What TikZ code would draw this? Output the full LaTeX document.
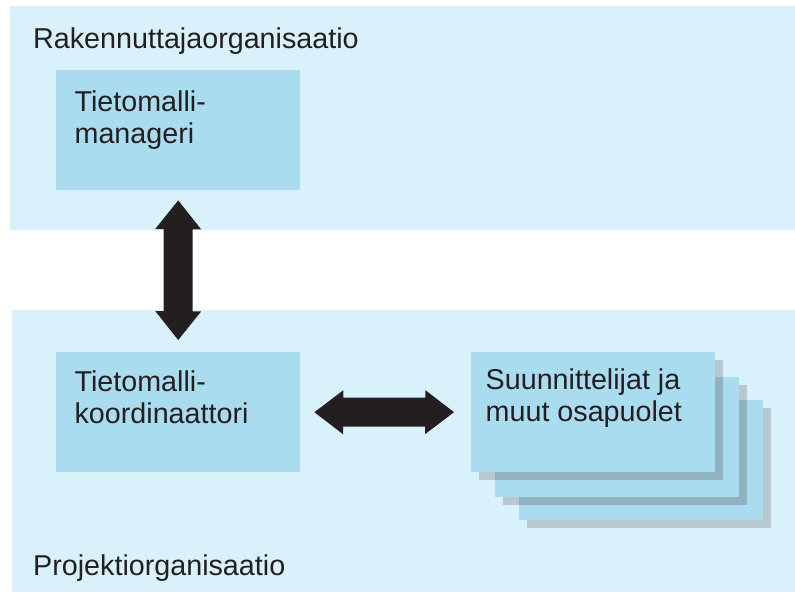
\documentclass[tikz,border=0pt]{standalone}
\usepackage{fontspec}
\setmainfont{Liberation Sans}
\usetikzlibrary{calc}
\definecolor{bandc}{RGB}{217,241,251}
\definecolor{boxc}{RGB}{170,220,240}
\definecolor{shlight}{RGB}{185,200,208}
\definecolor{shdark}{RGB}{144,178,194}
\definecolor{arrowc}{RGB}{35,31,32}
\tikzset{
  band/.style={fill=bandc},
  rolebox/.style={fill=boxc, draw=none, inner sep=0pt, minimum width=244pt, minimum height=120pt, anchor=north west},
  lbl/.style={inner sep=0pt, anchor=base west, text=arrowc, font=\fontsize{28.7}{31.5}\selectfont},
  bigarrow/.style={fill=arrowc, draw=none},
}
\newcommand{\lines}[1]{\begin{tabular}[t]{@{}l@{}}#1\end{tabular}}
\begin{document}
\begin{tikzpicture}[x=1pt,y=-1pt]
\useasboundingbox (0,0) rectangle (795,592);
\fill[white] (0,0) rectangle (795,592);
% bands
\fill[band] (10,6) rectangle (795,230);
\fill[band] (12,310) rectangle (795,592);
\node[lbl] (rak) at (33,48.3) {Rakennuttajaorganisaatio};
\node[lbl] (proj) at (33,575) {Projektiorganisaatio};
% boxes
\node[rolebox] (mgr) at (56,70) {};
\node[lbl] (mgrt) at (74.4,111.6) {\lines{Tietomalli-\\manageri}};
\node[rolebox] (koord) at (56,352) {};
\node[lbl] (koordt) at (74.4,391.7) {\lines{Tietomalli-\\koordinaattori}};
% stack
\fill[shlight] (527,408) rectangle (771,528);
\node[rolebox] (s3) at (519,400) {};
\fill[shlight] (503,385) rectangle (747,505);
\begin{scope}
  \clip (s3.north west) rectangle (s3.south east);
  \fill[shdark] (503,385) rectangle (747,505);
\end{scope}
\node[rolebox] (s2) at (495,377) {};
\fill[shlight] (479,360) rectangle (723,480);
\begin{scope}
  \clip (s2.north west) rectangle (s2.south east);
  \fill[shdark] (479,360) rectangle (723,480);
\end{scope}
\node[rolebox] (s1) at (471,352) {};
\node[lbl] (s1t) at (485.5,389.5) {\lines{Suunnittelijat ja\\muut osapuolet}};
% arrows
\coordinate (va) at ($(mgr.south)+(0,10)$);
\coordinate (vb) at ($(koord.north)+(0,-12)$);
\fill[bigarrow] (va) -- ++(23,29) -- ++(-8.5,0) -- ++(0,82) -- ++(8.5,0) -- (vb)
  -- ++(-23,-29) -- ++(8.5,0) -- ++(0,-82) -- ++(-8.5,0) -- cycle;
\coordinate (ha) at ($(koord.east)+(14,0)$);
\coordinate (hb) at ($(s1.west)+(-17,0)$);
\fill[bigarrow] (ha) -- ++(29,-22) -- ++(0,7.5) -- ++(82,0) -- ++(0,-7.5) -- (hb)
  -- ++(-29,22) -- ++(0,-7.5) -- ++(-82,0) -- ++(0,7.5) -- cycle;
\end{tikzpicture}
\end{document}
